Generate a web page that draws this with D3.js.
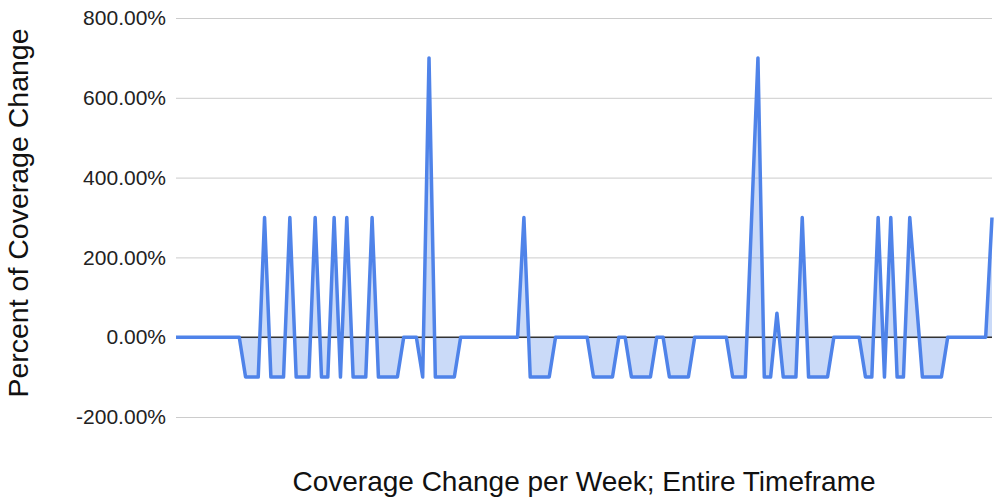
<!DOCTYPE html>
<html>
<head>
<meta charset="utf-8">
<script src="https://cdn.jsdelivr.net/npm/d3@7"></script>
<style>
  html, body { margin: 0; padding: 0; background: #fff; }
  svg { display: block; font-family: "Liberation Sans", Arial, Helvetica, sans-serif; }
</style>
</head>
<body>
<svg id="chart" width="996" height="500"></svg>
<script>
// Weekly percent change values (one per week, index order)
const values = [
  0, 0, 0, 0, 0, 0, 0, 0, 0, 0, 0,
  -100, -100, -100, 300,
  -100, -100, -100, 300,
  -100, -100, -100, 300,
  -100, -100, 300,
  -100, 300,
  -100, -100, -100, 300,
  -100, -100, -100, -100,
  0, 0, 0,
  -100, 700,
  -100, -100, -100, -100,
  0, 0, 0, 0, 0, 0, 0, 0, 0, 0,
  300,
  -100, -100, -100, -100,
  0, 0, 0, 0, 0, 0,
  -100, -100, -100, -100,
  0, 0,
  -100, -100, -100, -100,
  0, 0,
  -100, -100, -100, -100,
  0, 0, 0, 0, 0, 0,
  -100, -100, -100,
  300, 700,
  -100, -100,
  60,
  -100, -100, -100,
  300,
  -100, -100, -100, -100,
  0, 0, 0, 0, 0,
  -100, -100,
  300,
  -100,
  300,
  -100, -100,
  300, 100,
  -100, -100, -100, -100,
  0, 0, 0, 0, 0, 0, 0,
  300
];
const yTicks = [-200, 0, 200, 400, 600, 800];
const yTitle = "Percent of Coverage Change";
const xTitle = "Coverage Change per Week; Entire Timeframe";

const svg = d3.select("#chart");
const mLeft = 176, mRight = 992, mTop = 18, mBottom = 417;

const x = d3.scaleLinear().domain([0, values.length - 1]).range([mLeft, mRight]);
const y = d3.scaleLinear().domain([-200, 800]).range([mBottom, mTop]);

// gridlines + tick labels
const fmt = d3.format(".2f");
const yAxis = d3.axisLeft(y)
  .tickValues(yTicks)
  .tickSize(-(mRight - mLeft))
  .tickPadding(10)
  .tickFormat(d => fmt(d).replace("\u2212", "-") + "%");

const gAxis = svg.append("g")
  .attr("transform", `translate(${mLeft},0)`)
  .call(yAxis);
gAxis.select(".domain").remove();
gAxis.selectAll(".tick line")
  .attr("stroke", "#cccccc")
  .attr("stroke-width", 1);
gAxis.selectAll(".tick text")
  .attr("fill", "#222")
  .attr("font-size", 21)
  .attr("font-family", "'Liberation Sans', Arial, sans-serif");

// area
const area = d3.area()
  .x((d, i) => x(i))
  .y0(y(0))
  .y1(d => y(d));
svg.append("path")
  .datum(values)
  .attr("d", area)
  .attr("fill", "#4f83e9")
  .attr("fill-opacity", 0.3);

// zero baseline
svg.append("line")
  .attr("x1", mLeft).attr("x2", mRight)
  .attr("y1", y(0)).attr("y2", y(0))
  .attr("stroke", "#333")
  .attr("stroke-width", 1.5);

// line
const line = d3.line()
  .x((d, i) => x(i))
  .y(d => y(d));
svg.append("path")
  .datum(values)
  .attr("d", line)
  .attr("fill", "none")
  .attr("stroke", "#4f83e9")
  .attr("stroke-width", 3.5)
  .attr("stroke-linejoin", "round");

// axis titles
svg.append("text")
  .attr("x", 584)
  .attr("y", 491)
  .attr("text-anchor", "middle")
  .attr("font-size", 28)
  .attr("fill", "#111")
  .text(xTitle);

svg.append("text")
  .attr("transform", "translate(28,213) rotate(-90)")
  .attr("text-anchor", "middle")
  .attr("font-size", 28.5)
  .attr("fill", "#111")
  .text(yTitle);
</script>
</body>
</html>
